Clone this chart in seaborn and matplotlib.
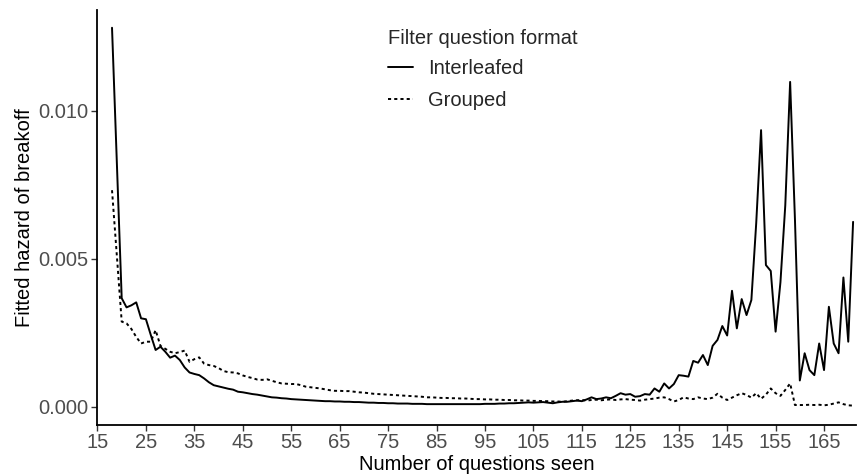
import numpy as np
import pandas as pd
import matplotlib
matplotlib.use("Agg")
import matplotlib.pyplot as plt
import seaborn as sns

questions = list(range(18, 172))

interleafed = [
    0.0128, 0.0082, 0.00366, 0.00335, 0.00342, 0.00352, 0.00298, 0.00295, 0.00242, 0.00191,
    0.00202, 0.00185, 0.00165, 0.00172, 0.00157, 0.00132, 0.00115, 0.00110, 0.00106, 0.00095,
    0.00082, 0.00072,
    0.00068, 0.00064, 0.00060, 0.00057, 0.00050, 0.00048, 0.00045, 0.00042, 0.00040, 0.00037,
    0.00034, 0.00031, 0.00030, 0.00028, 0.00027, 0.00025, 0.00024, 0.00023, 0.00022, 0.00021,
    0.00020, 0.00019, 0.00018, 0.00018, 0.00017, 0.00017, 0.00016, 0.00016, 0.00015, 0.00015,
    0.00014, 0.00013, 0.00013, 0.00012, 0.00012, 0.00011, 0.00011, 0.00010, 0.00010, 0.00010,
    0.00009, 0.00009, 0.00009, 0.00008, 0.00008, 0.00008, 0.00008, 0.00008, 0.00008, 0.00008,
    0.00008, 0.00008, 0.00008, 0.00008, 0.00008, 0.00009, 0.00009, 0.00009, 0.00010, 0.00010,
    0.00011, 0.00011, 0.00012, 0.00013, 0.00014, 0.00013, 0.00014, 0.00015, 0.00013, 0.00011,
    0.00014, 0.00016, 0.00016, 0.00018, 0.00020, 0.00018, 0.00024, 0.00031, 0.00025, 0.00027,
    0.00031, 0.00028, 0.00036, 0.00045, 0.00040, 0.00042, 0.00033,
    0.00035, 0.00042, 0.00040, 0.00061, 0.00050, 0.00078, 0.00061, 0.00076, 0.00106, 0.00104,
    0.00101, 0.00154, 0.00148, 0.00174, 0.00140, 0.00205, 0.00225, 0.00272, 0.00240, 0.00391,
    0.00264, 0.00363, 0.00309, 0.00360, 0.00620, 0.00934, 0.00478, 0.00458, 0.00253, 0.00420,
    0.00680, 0.01097, 0.00630, 0.00088, 0.00180, 0.00123, 0.00106, 0.00213, 0.00123, 0.00337,
    0.00213, 0.00180, 0.00436, 0.00219, 0.00624,
]

grouped = [
    0.00731, 0.00510, 0.00287, 0.00281, 0.00262, 0.00235, 0.00213, 0.00219, 0.00219, 0.00258,
    0.00205, 0.00195, 0.00185, 0.00180, 0.00184, 0.00189, 0.00151, 0.00160, 0.00166, 0.00145,
    0.00140, 0.00137,
    0.00130, 0.00120, 0.00116, 0.00115, 0.00112, 0.00105, 0.00100, 0.00096, 0.00091, 0.00090,
    0.00092, 0.00087, 0.00082, 0.00078, 0.00077, 0.00076, 0.00076, 0.00072, 0.00067, 0.00065,
    0.00063, 0.00061, 0.00058, 0.00055, 0.00053, 0.00053, 0.00052, 0.00052, 0.00050, 0.00048,
    0.00047, 0.00045, 0.00043, 0.00042, 0.00041, 0.00040, 0.00039, 0.00038, 0.00037, 0.00036,
    0.00035, 0.00034, 0.00033, 0.00031, 0.00031, 0.00030, 0.00029, 0.00029, 0.00028, 0.00028,
    0.00027, 0.00027, 0.00026, 0.00025, 0.00025, 0.00024, 0.00024, 0.00023, 0.00023, 0.00022,
    0.00022, 0.00021, 0.00021, 0.00020, 0.00020, 0.00019, 0.00019, 0.00018, 0.00018, 0.00017,
    0.00017, 0.00016, 0.00018, 0.00020, 0.00021, 0.00022, 0.00020, 0.00022, 0.00023, 0.00021,
    0.00023, 0.00024, 0.00022, 0.00024, 0.00025, 0.00023, 0.00022, 0.00020, 0.00023, 0.00025,
    0.00027, 0.00030, 0.00031, 0.00025, 0.00017, 0.00022, 0.00031, 0.00027, 0.00025, 0.00031,
    0.00027, 0.00025, 0.00030, 0.00043, 0.00030, 0.00022, 0.00030, 0.00038, 0.00045, 0.00039,
    0.00030, 0.00045, 0.00026, 0.00040, 0.00061, 0.00045, 0.00036, 0.00056, 0.00078, 0.00005,
    0.00005, 0.00005, 0.00006, 0.00005, 0.00006, 0.00004, 0.00006, 0.00010, 0.00014, 0.00008,
    0.00004, 0.00003,
]

formats = ["Interleafed", "Grouped"]
x_ticks = list(range(15, 170, 10))
y_ticks = [0.000, 0.005, 0.010]
y_tick_labels = ["0.000", "0.005", "0.010"]

df = pd.DataFrame({
    "q": questions * 2,
    "hazard": interleafed + grouped,
    "format": [formats[0]] * len(questions) + [formats[1]] * len(questions),
})

sns.set_theme(style="ticks")
plt.rcParams["font.family"] = ["Liberation Sans", "DejaVu Sans"]

fig = plt.figure(figsize=(8.58, 4.75), dpi=100)
ax = fig.add_axes([97 / 858, 1 - 425 / 475, (856 - 97) / 858, (425 - 10) / 475])

sns.lineplot(
    data=df, x="q", y="hazard", style="format", style_order=formats,
    dashes={"Interleafed": "", "Grouped": (1.6, 1.6)},
    color="black", linewidth=1.4, ax=ax, legend=True,
)

ax.set_xlim(14.9, 171.6)
ax.set_ylim(-0.000625, 0.0134)
ax.set_xticks(x_ticks)
ax.set_yticks(y_ticks)
ax.set_yticklabels(y_tick_labels)
ax.tick_params(axis="both", labelsize=14.5, labelcolor="#4D4D4D", color="#333333",
               length=4, width=1.0, pad=2)
for s in ["top", "right"]:
    ax.spines[s].set_visible(False)
for s in ["left", "bottom"]:
    ax.spines[s].set_linewidth(1.3)
    ax.spines[s].set_color("black")

ax.set_xlabel("Number of questions seen", fontsize=14.5, color="black", labelpad=2)
ax.set_ylabel("Fitted hazard of breakoff", fontsize=14.5, color="black", labelpad=3)

handles, labels = ax.get_legend_handles_labels()
leg = ax.legend(handles, labels, title="Filter question format", frameon=False,
                loc="upper left", bbox_to_anchor=(370 / 858, 1 - 11 / 475),
                bbox_transform=fig.transFigure, fontsize=14.5, title_fontsize=14.5,
                handlelength=1.25, handletextpad=0.75, labelspacing=0.65,
                alignment="left")
leg._legend_box.sep = 8

fig.savefig("out.png", dpi=100)
